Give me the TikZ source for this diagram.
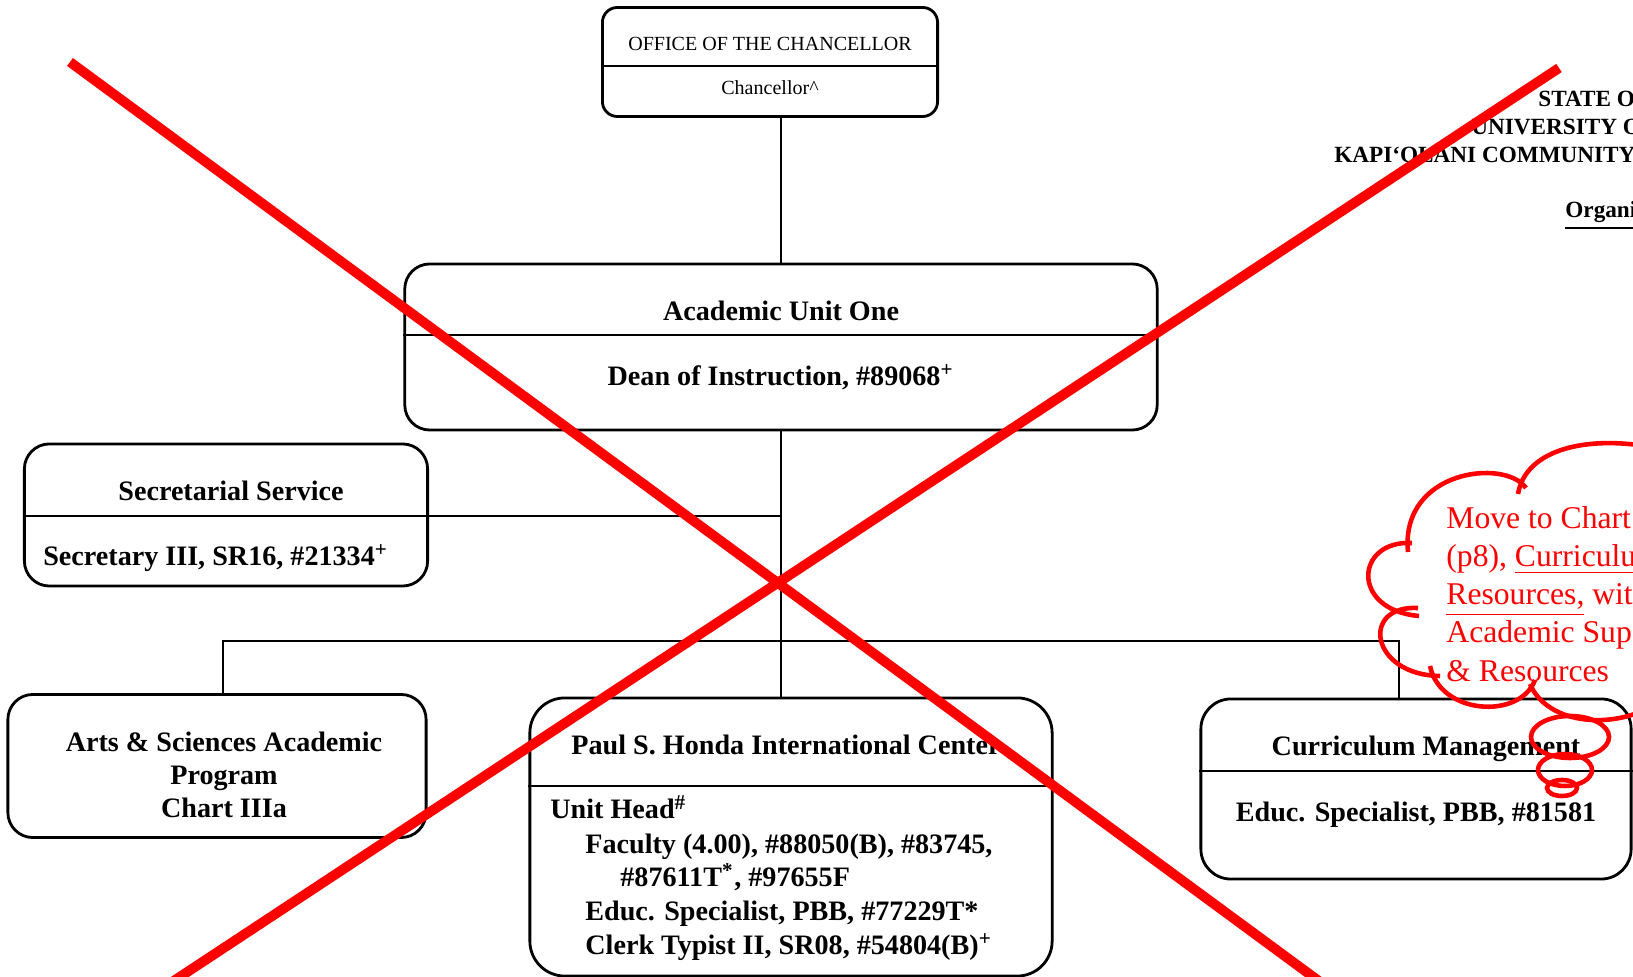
\documentclass[tikz,border=0pt]{standalone}
\usepackage{fontspec}
\setmainfont{Liberation Serif}
\usetikzlibrary{shapes.geometric}

\begin{document}
\begin{tikzpicture}[x=0.01cm, y=-0.01cm, thick,
		box/.style = {draw, rounded corners=0.25cm, inner sep=0pt},
		txt/.style = {font=\fontsize{8}{9.6}\selectfont\bfseries, inner sep=0pt, anchor=base},
		txtl/.style = {txt, anchor=base west},
		small/.style = {font=\fontsize{5.7}{7}\selectfont, inner sep=0pt, anchor=base},
		head/.style = {font=\fontsize{6.6}{8}\selectfont\bfseries, inner sep=0pt, anchor=base west},
		note/.style = {font=\fontsize{9}{10.8}\selectfont, text=red, inner sep=0pt, anchor=base west},
		redline/.style = {draw=red, line width=2.8pt},
		cloudline/.style = {draw=red, line width=1.3pt},
		bubble/.style = {cloudline, ellipse, inner sep=0pt}]
	\useasboundingbox (0,0) rectangle (1633,977);
	\clip (0,0) rectangle (1633,977);
	
	% boxes
	\node[box, rounded corners=0.15cm, minimum width=3.35cm, minimum height=1.09cm] (chanc) at (770,62) {};
	\node[box, minimum width=7.52cm, minimum height=1.66cm] (acad) at (781,347) {};
	\node[box, minimum width=4.03cm, minimum height=1.42cm] (secr) at (226,515) {};
	\node[box, minimum width=4.18cm, minimum height=1.43cm] (arts) at (217,766) {};
	\node[box, rounded corners=0.35cm, minimum width=5.22cm, minimum height=2.78cm] (honda) at (791,837) {};
	\node[box, rounded corners=0.3cm, minimum width=4.30cm, minimum height=1.80cm] (curr) at (1416,789) {};
	
	\foreach \b/\y in {chanc/66, acad/335, secr/516, honda/786, curr/771}
		\draw (\b.west |- 0,\y) -- (\b.east |- 0,\y);
	
	% texts
	\node[small] (chanct) at (770,51) {OFFICE OF THE CHANCELLOR};
	\node[small] (chancn) at (770,95) {Chancellor\textasciicircum};
	\node[txt] (acadt) at (781,321) {Academic Unit One};
	\node[txt] (acadn) at (781,386) {Dean of Instruction, \#89068\textsuperscript{+}};
	\node[txt] (secrt) at (231,501) {Secretarial Service};
	\node[txt] (secrn) at (216,566) {Secretary III, SR16, \#21334\textsuperscript{+}};
	\node[txt] (arts1) at (224,752) {Arts \& Sciences Academic};
	\node[txt] (arts2) at (224,785) {Program};
	\node[txt] (arts3) at (224,818) {Chart IIIa};
	\node[txt] (hondat) at (786,755) {Paul S. Honda International Center};
	\node[txtl] (honda1) at (549,819) {Unit Head\textsuperscript{\#}};
	\node[txtl] (honda2) at (584,854) {Faculty (4.00), \#88050(B), \#83745,};
	\node[txtl] (honda3) at (619,887) {\#87611T\textsuperscript{*}, \#97655F};
	\node[txtl] (honda4) at (584,921) {Educ. Specialist, PBB, \#77229T*};
	\node[txtl] (honda5) at (584,955) {Clerk Typist II, SR08, \#54804(B)\textsuperscript{+}};
	\node[txt] (currt) at (1426,756) {Curriculum Management};
	\node[txt] (currn) at (1416,822) {Educ. Specialist, PBB, \#81581};
	
	\node[head] (state1) at (1537,107) {STATE O};
	\node[head] (state2) at (1470,135) {UNIVERSITY O};
	\node[head] (state3) at (1333,163) {KAPI‘OLANI COMMUNITY};
	\node[head] (state4) at (1564,218) {\underline{Organi}};
	
	% connectors
	\coordinate (sj) at (781,516);
	\coordinate (aj) at (223,641);
	\coordinate (cj) at (1399,641);
	\draw (chanc.south -| acad.north) -- (acad.north);
	\draw (acad.south) -- (acad.south |- honda.north);
	\draw (secr.east |- sj) -- (sj);
	\draw (aj |- arts.north) -- (aj) -- (cj) -- (cj |- curr.north);
	
	% red marks
	\draw[cloudline] (1645,446) .. controls (1580,436) and (1525,452) .. (1518,494)
		(1526,488) .. controls (1505,458) and (1400,470) .. (1408,552)
		(1412,543) .. controls (1355,540) and (1350,610) .. (1419,616)
		(1418,608) .. controls (1360,605) and (1370,675) .. (1440,676)
		(1430,666) .. controls (1440,715) and (1520,720) .. (1535,680)
		(1530,684) .. controls (1545,720) and (1600,730) .. (1645,710);
	\node[bubble, minimum width=0.78cm, minimum height=0.42cm] (bub1) at (1570,737) {};
	\node[bubble, minimum width=0.54cm, minimum height=0.32cm] (bub2) at (1565,770) {};
	\node[bubble, minimum width=0.30cm, minimum height=0.16cm] (bub3) at (1562,788) {};
	\node[note] (note1) at (1445,529) {Move to Chart};
	\node[note] (note2) at (1445,567) {(p8), \underline{Curriculu}};
	\node[note] (note3) at (1445,605) {\underline{Resources,} wit};
	\node[note] (note4) at (1445,643) {Academic Sup};
	\node[note] (note5) at (1445,682) {\& Resources};
	
	\coordinate (xa) at (70,62);
	\coordinate (xb) at (1331,990);
	\coordinate (xc) at (1559,68);
	\coordinate (xd) at (160,990);
	\draw[redline] (xa) -- (xb);
	\draw[redline] (xc) -- (xd);
\end{tikzpicture}
\end{document}
